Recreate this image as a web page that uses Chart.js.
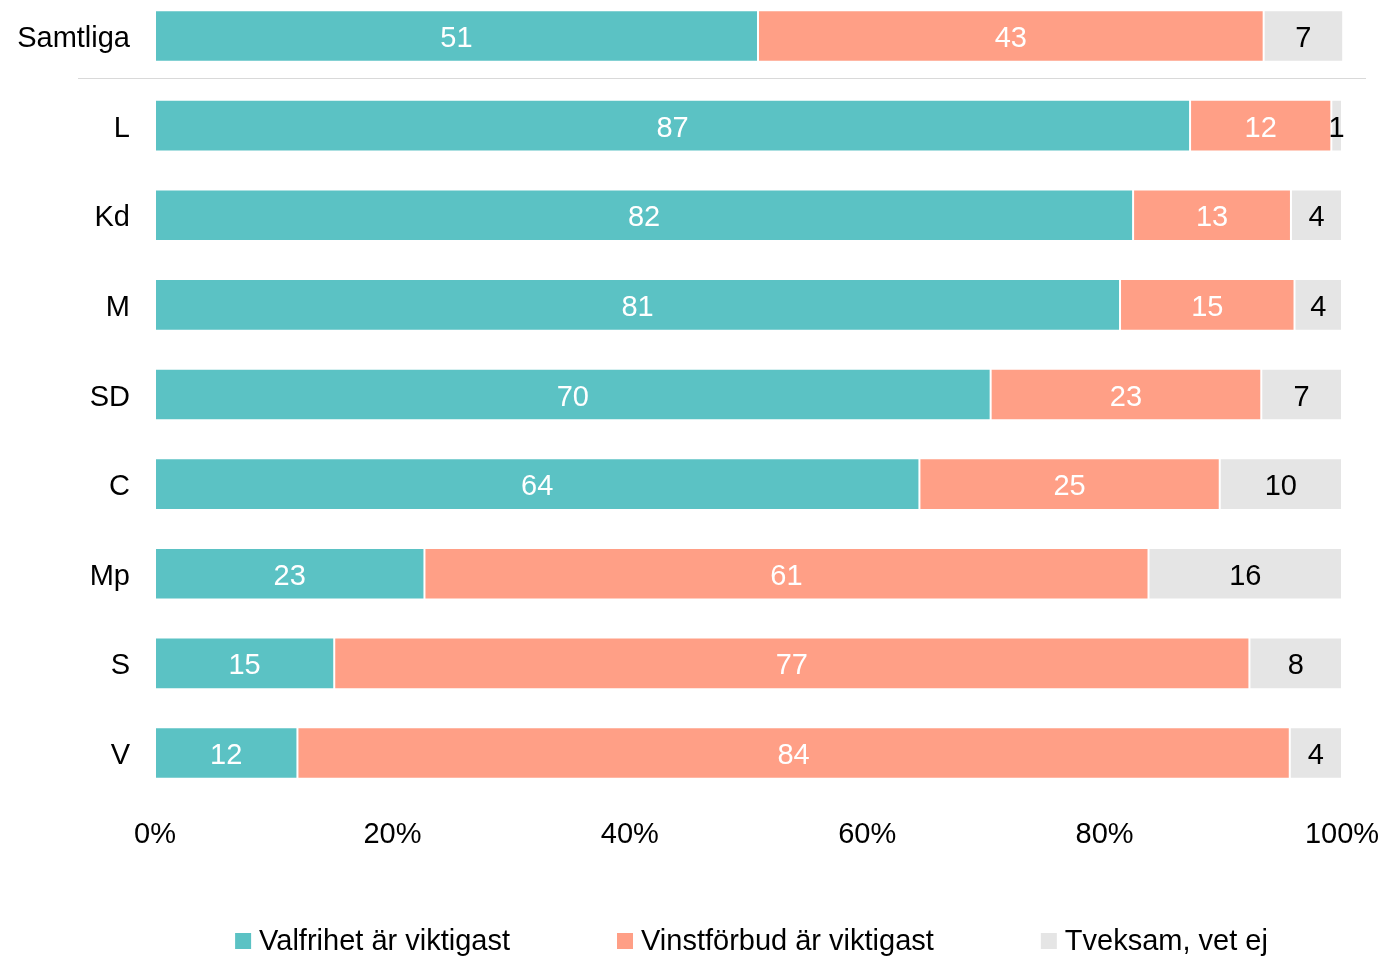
<!DOCTYPE html>
<html lang="sv">
<head>
<meta charset="utf-8">
<title>Valfrihet eller vinstförbud</title>
<script src="https://cdn.jsdelivr.net/npm/chart.js@4.4.1/dist/chart.umd.min.js"></script>
<style>
  html, body { margin: 0; padding: 0; background: #fff; }
  #chart { display: block; }
</style>
</head>
<body>
<canvas id="chart" width="1385" height="957"></canvas>
<script>
const categories = ['Samtliga', 'L', 'Kd', 'M', 'SD', 'C', 'Mp', 'S', 'V'];
const seriesNames = ['Valfrihet är viktigast', 'Vinstförbud är viktigast', 'Tveksam, vet ej'];
const valfrihet = [50.8, 87.2, 82.4, 81.3, 70.4, 64.4, 22.7, 15.1, 12.0];
const vinstforbud = [42.6, 11.9, 13.3, 14.7, 22.8, 25.3, 61.0, 77.1, 83.6];
const tveksam = [6.7, 0.9, 4.3, 4.0, 6.8, 10.3, 16.3, 7.8, 4.4];
const xTicks = [0, 20, 40, 60, 80, 100];

const FONT = "Arial, 'Liberation Sans', sans-serif";
const COLORS = ['#5bc2c4', '#ff9f86', '#e5e5e5'];
const LABEL_COLORS = ['#ffffff', '#ffffff', '#000000'];

Chart.defaults.font.family = FONT;
Chart.defaults.font.size = 29;
Chart.defaults.color = '#000';

// value labels inside each segment
const segmentLabels = {
  id: 'segmentLabels',
  afterDatasetsDraw(chart) {
    const { ctx } = chart;
    ctx.save();
    ctx.font = `29px ${FONT}`;
    ctx.textAlign = 'center';
    ctx.textBaseline = 'middle';
    chart.data.datasets.forEach((ds, i) => {
      chart.getDatasetMeta(i).data.forEach((bar, j) => {
        const x = (bar.x + bar.base) / 2;
        ctx.fillStyle = LABEL_COLORS[i];
        ctx.fillText(String(Math.round(ds.data[j])), x, bar.y + 3);
      });
    });
    ctx.restore();
  },
};

// thin rule between "Samtliga" and the parties
const separator = {
  id: 'separator',
  beforeDatasetsDraw(chart) {
    const { ctx, chartArea, scales } = chart;
    const y = Math.round((scales.y.getPixelForValue(0) + scales.y.getPixelForValue(1)) / 2) - 2.5;
    ctx.save();
    ctx.strokeStyle = '#d9d9d9';
    ctx.lineWidth = 1;
    ctx.beginPath();
    ctx.moveTo(chartArea.left - 77, y);
    ctx.lineTo(chartArea.right + 24, y);
    ctx.stroke();
    ctx.restore();
  },
};

// legend spread out along the bottom
const bottomLegend = {
  id: 'bottomLegend',
  afterDraw(chart) {
    const { ctx, chartArea } = chart;
    const box = 16;
    const gap = 107;
    ctx.save();
    ctx.font = `29px ${FONT}`;
    const items = chart.data.datasets.map((ds) => ({
      label: ds.label,
      color: ds.backgroundColor,
      width: box + 8 + ctx.measureText(ds.label).width,
    }));
    const total = items.reduce((sum, it) => sum + it.width, 0) + gap * (items.length - 1);
    let x = (chartArea.left + chartArea.right) / 2 - total / 2 + 3;
    const y = chart.height - 16;
    ctx.textAlign = 'left';
    ctx.textBaseline = 'middle';
    items.forEach((it) => {
      ctx.fillStyle = it.color;
      ctx.fillRect(x, y - box / 2, box, box);
      ctx.fillStyle = '#000';
      ctx.fillText(it.label, x + box + 8, y + 1);
      x += it.width + gap;
    });
    ctx.restore();
  },
};

new Chart(document.getElementById('chart'), {
  type: 'bar',
  data: {
    labels: categories,
    datasets: [valfrihet, vinstforbud, tveksam].map((data, i) => ({
      label: seriesNames[i],
      data,
      backgroundColor: COLORS[i],
      borderColor: 'rgba(255,255,255,0.7)',
      borderWidth: 1,
      borderSkipped: false,
      categoryPercentage: 0.575,
      barPercentage: 1,
      clip: false,
    })),
  },
  options: {
    indexAxis: 'y',
    responsive: false,
    animation: false,
    devicePixelRatio: 1,
    layout: { padding: { top: 36, right: 43, left: 0, bottom: 0 } },
    scales: {
      x: {
        stacked: true,
        min: 0,
        max: 100,
        afterBuildTicks: (scale) => { scale.ticks = xTicks.map((value) => ({ value })); },
        ticks: { callback: (v) => v + '%', padding: 65, color: '#000' },
        grid: { display: false, drawTicks: false },
        border: { display: false },
        afterFit: (scale) => {
          scale.height = 957 - 36 - 717;
          scale.paddingLeft = 0;
          scale.paddingRight = 0;
        },
      },
      y: {
        stacked: true,
        offset: false,
        ticks: { padding: 25, labelOffset: 3, color: '#000' },
        grid: { display: false, drawTicks: false },
        border: { display: false },
        afterFit: (scale) => {
          scale.width = 155;
          scale.paddingTop = 0;
          scale.paddingBottom = 0;
        },
      },
    },
    plugins: {
      legend: { display: false },
      tooltip: { enabled: false },
    },
  },
  plugins: [separator, segmentLabels, bottomLegend],
});
</script>
</body>
</html>
